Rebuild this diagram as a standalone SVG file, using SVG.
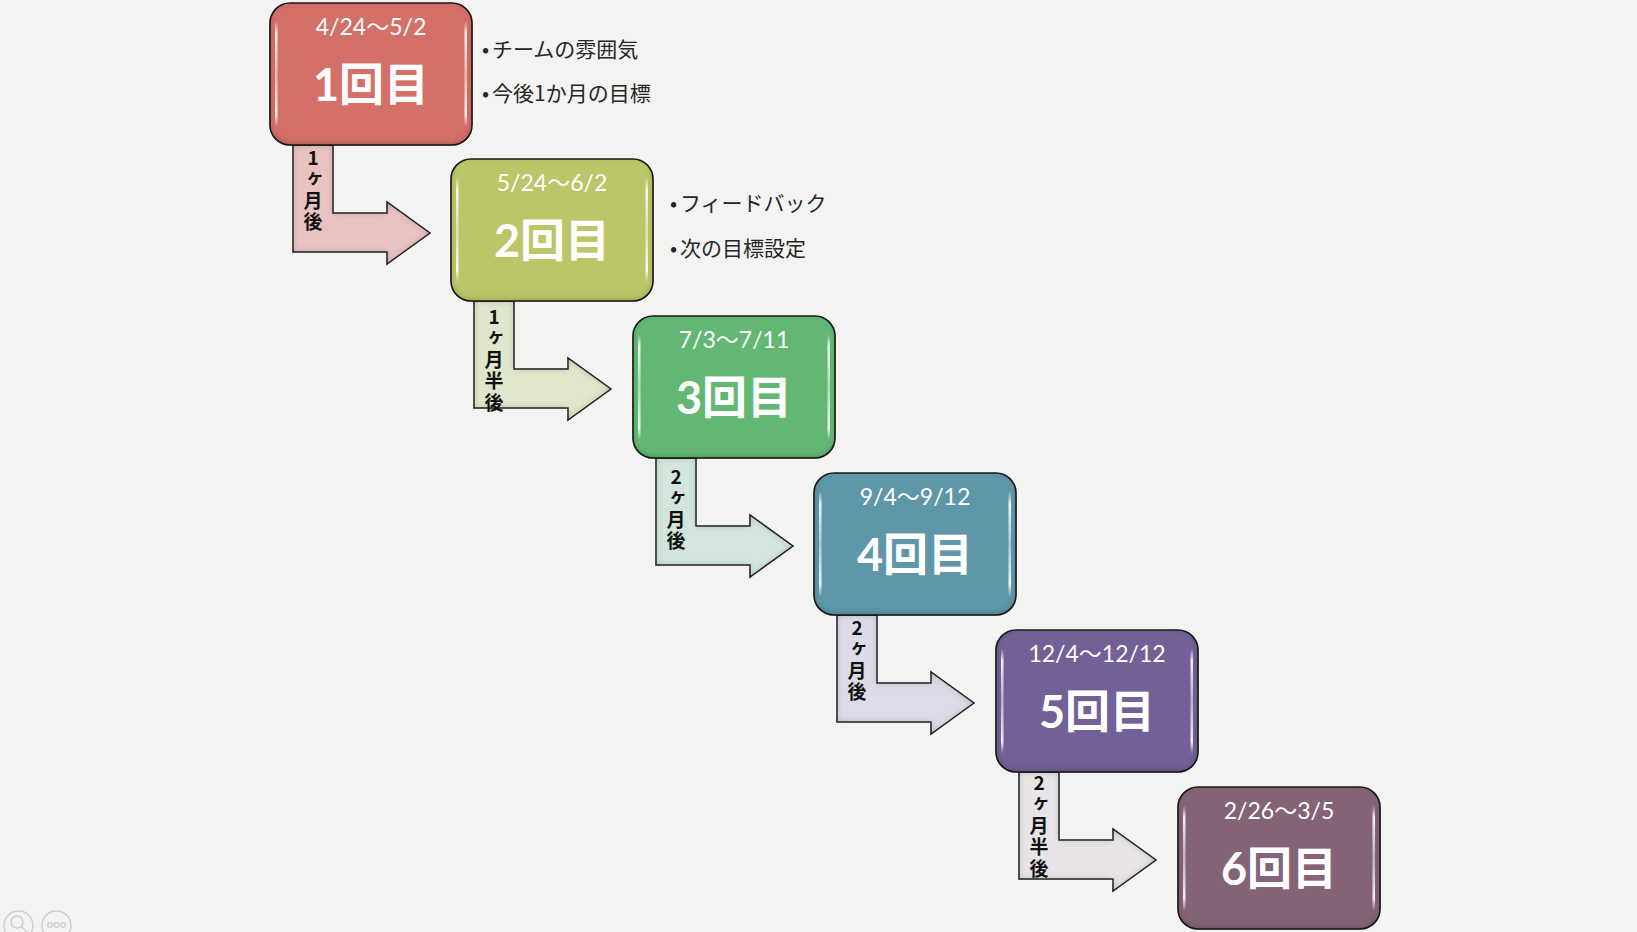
<svg xmlns="http://www.w3.org/2000/svg" width="1637" height="932" viewBox="0 0 1637 932">
<style>
.bg{fill:#f3f3f1}
.box{stroke:#1c1c1c;stroke-width:1.6}
.date{font-family:Lato,"Noto Sans CJK JP",sans-serif;font-size:23px;fill:#fff;text-anchor:middle}
.big{font-family:Lato,"Noto Sans CJK JP",sans-serif;font-size:45px;font-weight:700;fill:#fff;text-anchor:middle}
.arrow{stroke:#2a2a2a;stroke-width:1.5;stroke-linejoin:miter}
.alab{font-family:"Noto Sans CJK JP",sans-serif;font-size:19px;font-weight:700;fill:#111;writing-mode:vertical-rl;text-orientation:upright;letter-spacing:2.5px}
.note{font-family:"Noto Sans CJK JP",sans-serif;font-size:21px;fill:#262626}
.ui{fill:none;stroke:#cfcfcf;stroke-width:1.5}
</style>
<defs>
<linearGradient id="hl" x1="0" y1="0" x2="0" y2="1">
<stop offset="0" stop-color="#fff" stop-opacity="0"/>
<stop offset="0.12" stop-color="#fff" stop-opacity="0.9"/>
<stop offset="0.5" stop-color="#fff" stop-opacity="0.5"/>
<stop offset="0.88" stop-color="#fff" stop-opacity="0.9"/>
<stop offset="1" stop-color="#fff" stop-opacity="0"/>
</linearGradient>
<linearGradient id="aSheen" x1="0" y1="0" x2="0" y2="1">
<stop offset="0" stop-color="#fff" stop-opacity="0"/>
<stop offset="0.6" stop-color="#fff" stop-opacity="0"/>
<stop offset="0.78" stop-color="#fff" stop-opacity="0.35"/>
<stop offset="1" stop-color="#fff" stop-opacity="0"/>
</linearGradient>
<filter id="inBox" x="-5%" y="-5%" width="110%" height="110%">
<feGaussianBlur in="SourceAlpha" stdDeviation="3" result="b"/>
<feOffset in="b" dy="-2" result="o"/>
<feComposite in="SourceAlpha" in2="o" operator="arithmetic" k2="1" k3="-1" result="e"/>
<feFlood flood-color="#000" flood-opacity="0.45"/>
<feComposite in2="e" operator="in" result="s"/>
<feMerge><feMergeNode in="SourceGraphic"/><feMergeNode in="s"/></feMerge>
</filter>
<filter id="inArr" x="-5%" y="-5%" width="110%" height="110%">
<feGaussianBlur in="SourceAlpha" stdDeviation="3.5" result="b"/>
<feComposite in="SourceAlpha" in2="b" operator="arithmetic" k2="1" k3="-1" result="e"/>
<feFlood flood-color="#000" flood-opacity="0.5"/>
<feComposite in2="e" operator="in" result="s"/>
<feMerge><feMergeNode in="SourceGraphic"/><feMergeNode in="s"/></feMerge>
</filter>
<path id="arr" d="M23,142 L63,142 L63,210 L117,210 L117,199 L160,230 L117,261 L117,249 L23,249 Z"/>
</defs>
<rect class="bg" x="0" y="0" width="1637" height="932"/>

<g id="connectors">
<g transform="translate(270,3)">
<use href="#arr" class="arrow" fill="#e9c3c2" filter="url(#inArr)"/>
<text class="alab" x="43" y="145">1ヶ月後</text>
</g>
<g transform="translate(451,159)">
<use href="#arr" class="arrow" fill="#dfe6cb" filter="url(#inArr)"/>
<text class="alab" x="43" y="148">1ヶ月半後</text>
</g>
<g transform="translate(633,316)">
<use href="#arr" class="arrow" fill="#d3e6dd" filter="url(#inArr)"/>
<text class="alab" x="43" y="151">2ヶ月後</text>
</g>
<g transform="translate(814,473)">
<use href="#arr" class="arrow" fill="#dcdbe7" filter="url(#inArr)"/>
<text class="alab" x="43" y="145">2ヶ月後</text>
</g>
<g transform="translate(996,630)">
<use href="#arr" class="arrow" fill="#e7e3e6" filter="url(#inArr)"/>
<text class="alab" x="43" y="143">2ヶ月半後</text>
</g>
</g>

<g id="node1" transform="translate(270,3)">
<rect class="box" x="0" y="0" width="202" height="142" rx="20" fill="#d36f68" filter="url(#inBox)"/>
<rect x="5" y="18" width="2.5" height="106" rx="1.2" fill="url(#hl)"/>
<rect x="194.5" y="18" width="2.5" height="106" rx="1.2" fill="url(#hl)"/>
<text class="date" x="101" y="32">4/24～5/2</text>
<text class="big" x="101" y="98">1回目</text>
</g>
<g id="node2" transform="translate(451,159)">
<rect class="box" x="0" y="0" width="202" height="142" rx="20" fill="#bcc567" filter="url(#inBox)"/>
<rect x="5" y="18" width="2.5" height="106" rx="1.2" fill="url(#hl)"/>
<rect x="194.5" y="18" width="2.5" height="106" rx="1.2" fill="url(#hl)"/>
<text class="date" x="101" y="32">5/24～6/2</text>
<text class="big" x="101" y="98">2回目</text>
</g>
<g id="node3" transform="translate(633,316)">
<rect class="box" x="0" y="0" width="202" height="142" rx="20" fill="#62b873" filter="url(#inBox)"/>
<rect x="5" y="18" width="2.5" height="106" rx="1.2" fill="url(#hl)"/>
<rect x="194.5" y="18" width="2.5" height="106" rx="1.2" fill="url(#hl)"/>
<text class="date" x="101" y="32">7/3～7/11</text>
<text class="big" x="101" y="98">3回目</text>
</g>
<g id="node4" transform="translate(814,473)">
<rect class="box" x="0" y="0" width="202" height="142" rx="20" fill="#5f97a9" filter="url(#inBox)"/>
<rect x="5" y="18" width="2.5" height="106" rx="1.2" fill="url(#hl)"/>
<rect x="194.5" y="18" width="2.5" height="106" rx="1.2" fill="url(#hl)"/>
<text class="date" x="101" y="32">9/4～9/12</text>
<text class="big" x="101" y="98">4回目</text>
</g>
<g id="node5" transform="translate(996,630)">
<rect class="box" x="0" y="0" width="202" height="142" rx="20" fill="#726096" filter="url(#inBox)"/>
<rect x="5" y="18" width="2.5" height="106" rx="1.2" fill="url(#hl)"/>
<rect x="194.5" y="18" width="2.5" height="106" rx="1.2" fill="url(#hl)"/>
<text class="date" x="101" y="32">12/4～12/12</text>
<text class="big" x="101" y="98">5回目</text>
</g>
<g id="node6" transform="translate(1178,787)">
<rect class="box" x="0" y="0" width="202" height="142" rx="20" fill="#846477" filter="url(#inBox)"/>
<rect x="5" y="18" width="2.5" height="106" rx="1.2" fill="url(#hl)"/>
<rect x="194.5" y="18" width="2.5" height="106" rx="1.2" fill="url(#hl)"/>
<text class="date" x="101" y="32">2/26～3/5</text>
<text class="big" x="101" y="98">6回目</text>
</g>

<g id="notes1">
<text class="note"><tspan x="482" y="57">•</tspan><tspan x="492" y="57">チームの雰囲気</tspan></text>
<text class="note"><tspan x="482" y="101">•</tspan><tspan x="492" y="101">今後1か月の目標</tspan></text>
</g>
<g id="notes2">
<text class="note"><tspan x="670" y="211">•</tspan><tspan x="680" y="211">フィードバック</tspan></text>
<text class="note"><tspan x="670" y="256">•</tspan><tspan x="680" y="256">次の目標設定</tspan></text>
</g>

<g id="viewer-ui">
<circle class="ui" cx="18.5" cy="925.5" r="14.5"/>
<circle class="ui" cx="17" cy="922" r="6"/>
<line class="ui" x1="21.5" y1="926.5" x2="27" y2="932"/>
<circle class="ui" cx="56.5" cy="925.5" r="14.5"/>
<circle class="ui" cx="50" cy="925" r="2.3" stroke-width="1"/>
<circle class="ui" cx="56.5" cy="925" r="2.3" stroke-width="1"/>
<circle class="ui" cx="63" cy="925" r="2.3" stroke-width="1"/>
</g>
</svg>
